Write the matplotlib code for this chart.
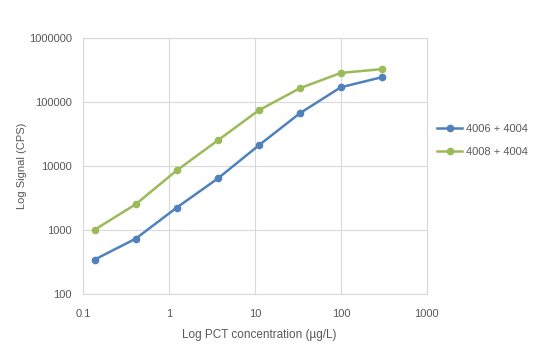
import matplotlib.pyplot as plt
from matplotlib.ticker import FixedLocator, FixedFormatter

conc = [0.137, 0.41, 1.23, 3.7, 11.1, 33.3, 100, 300]
sig_4006 = [345, 730, 2230, 6370, 21000, 66600, 170000, 244000]
sig_4008 = [1010, 2520, 8500, 25100, 74200, 164000, 285000, 326000]
series_names = ["4006 + 4004", "4008 + 4004"]
x_ticks = [0.1, 1, 10, 100, 1000]
y_ticks = [100, 1000, 10000, 100000, 1000000]

plt.rcParams['font.family'] = ['Liberation Sans', 'DejaVu Sans']

fig = plt.figure(figsize=(5.44, 3.52), dpi=100)
ax = fig.add_axes([0.1526, 0.165, 0.632, 0.727])

ax.plot(conc, sig_4006, color='#4f81bd', marker='o', markersize=4.5, linewidth=1.8, label=series_names[0])
ax.plot(conc, sig_4008, color='#9bbb59', marker='o', markersize=4.5, linewidth=1.8, label=series_names[1])

ax.set_xscale('log')
ax.set_yscale('log')
ax.set_xlim(0.1, 1000)
ax.set_ylim(100, 1000000)
ax.xaxis.set_major_locator(FixedLocator(x_ticks))
ax.xaxis.set_major_formatter(FixedFormatter([str(t) for t in x_ticks]))
ax.yaxis.set_major_locator(FixedLocator(y_ticks))
ax.yaxis.set_major_formatter(FixedFormatter([str(t) for t in y_ticks]))
ax.minorticks_off()

ax.grid(True, color='#d9d9d9', linewidth=0.8)
for s in ax.spines.values():
    s.set_color('#d9d9d9')
    s.set_linewidth(0.8)
ax.tick_params(axis='y', length=0, labelsize=8, labelcolor='#595959', pad=8)
ax.tick_params(axis='x', length=0, labelsize=8, labelcolor='#595959', pad=11)

ax.set_xlabel("Log PCT concentration (µg/L)", fontsize=8.5, color='#595959', va='center')
ax.set_ylabel("Log Signal (CPS)", fontsize=8, color='#595959', va='center')
ax.xaxis.set_label_coords(0.513, -0.16)
ax.yaxis.set_label_coords(-0.177, 0.5)

fig.legend(loc='center left', bbox_to_anchor=(0.795, 0.601), bbox_transform=fig.transFigure,
           borderaxespad=0, frameon=False, fontsize=8, labelcolor='#595959',
           handlelength=2.3, labelspacing=1.15, handletextpad=0.3)

fig.savefig('out.png', dpi=100)
